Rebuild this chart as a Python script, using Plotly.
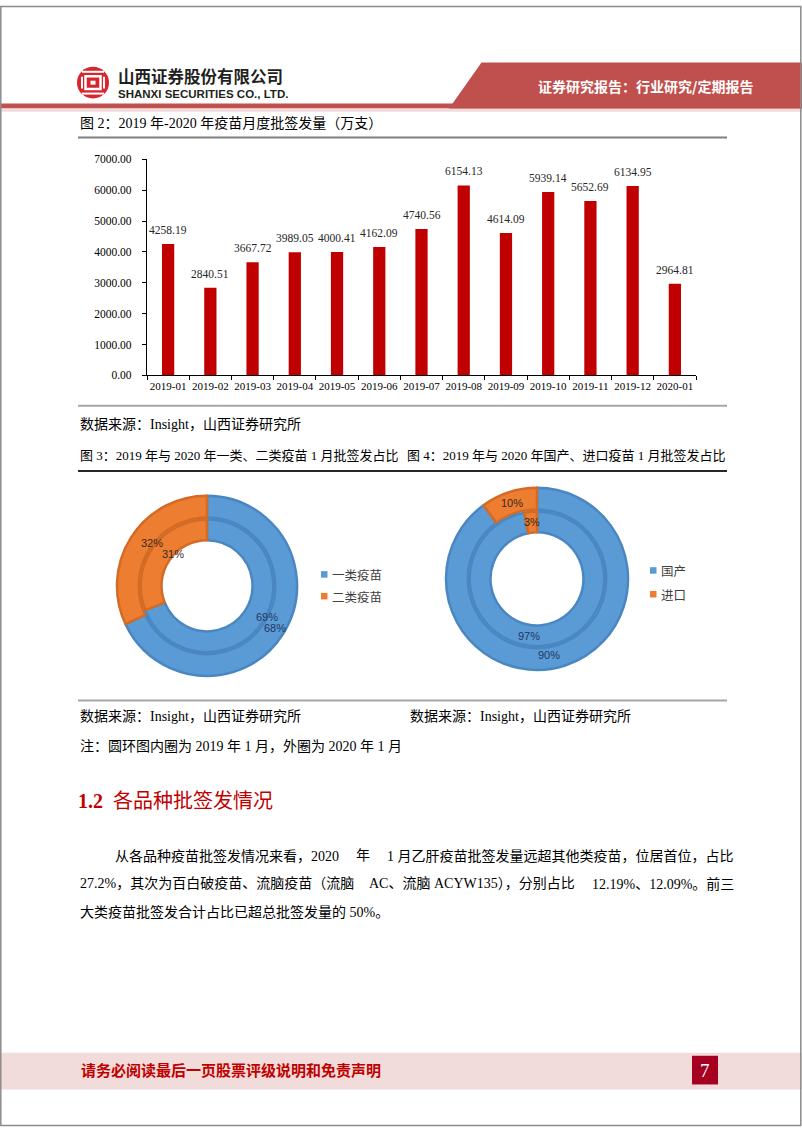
import math
import plotly.graph_objects as go

W, H = 802, 1133

def X(px):
    return px / W

def Y(py):
    return 1 - py / H

# ---------------- data ----------------
months = ['2019-01', '2019-02', '2019-03', '2019-04', '2019-05', '2019-06', '2019-07',
          '2019-08', '2019-09', '2019-10', '2019-11', '2019-12', '2020-01']
volumes = [4258.19, 2840.51, 3667.72, 3989.05, 4000.41, 4162.09, 4740.56,
           6154.13, 4614.09, 5939.14, 5652.69, 6134.95, 2964.81]
y_ticks = [0, 1000, 2000, 3000, 4000, 5000, 6000, 7000]

class_labels = ['一类疫苗', '二类疫苗']
class_2019 = [69, 31]   # inner ring
class_2020 = [68, 32]   # outer ring

origin_labels = ['国产', '进口']
origin_2019 = [97, 3]   # inner ring
origin_2020 = [90, 10]  # outer ring

BLUE, ORANGE = '#5B9BD5', '#ED7D31'
BLUE_EDGE, ORANGE_EDGE = '#4A87C2', '#D36B25'
RED = '#C00000'
SERIF = 'Liberation Serif, Noto Sans CJK SC'
SANS = 'Noto Sans CJK SC, Liberation Sans'

fig = go.Figure()

# ---------------- bar chart ----------------
fig.add_trace(go.Bar(
    x=months, y=volumes, marker=dict(color=RED, line=dict(width=0)),
    width=0.29, showlegend=False, hoverinfo='x+y'))

for m, v in zip(months, volumes):
    fig.add_annotation(x=m, y=v, xref='x', yref='y', text=f'{v:.2f}', showarrow=False,
                       yanchor='bottom', yshift=6,
                       font=dict(family=SERIF, size=11.5, color='#262626'))

fig.update_xaxes(domain=[X(147), X(696)], type='category', showline=True, linecolor='black',
                 linewidth=1.2, ticks='outside', ticklen=4, tickcolor='black', tickson='boundaries',
                 showgrid=False, tickangle=0,
                 tickfont=dict(family=SERIF, size=11, color='black'),
                 anchor='y', fixedrange=True)
fig.update_yaxes(domain=[Y(373.3), Y(155)], range=[0, 7000], tickvals=y_ticks,
                 ticktext=[f'{t:.2f}' for t in y_ticks], showline=True, linecolor='black',
                 linewidth=1.2, ticks='outside', ticklen=4, tickcolor='black', showgrid=False,
                 zeroline=False, tickfont=dict(family=SERIF, size=11.5, color='black'),
                 ticklabelstandoff=8, anchor='x', fixedrange=True)

# ---------------- donuts ----------------
def add_donut(cx, cy, r_out, r_mid_out, r_mid_in, r_in, labels, inner_vals, outer_vals):
    for vals, ro, ri in ((outer_vals, r_out, r_mid_out), (inner_vals, r_mid_in, r_in)):
        fig.add_trace(go.Pie(
            labels=labels, values=vals, sort=False, direction='clockwise', rotation=0,
            hole=ri / ro, textinfo='none', showlegend=False,
            marker=dict(colors=[BLUE, ORANGE], line=dict(color=[BLUE_EDGE, ORANGE_EDGE], width=2.5)),
            domain=dict(x=[X(cx - ro), X(cx + ro)], y=[Y(cy + ro), Y(cy - ro)])))
        # percentage labels at mid angle / mid radius of each slice
        total = sum(vals)
        cum = 0
        rm = (ro + ri) / 2
        for i, v in enumerate(vals):
            th = 2 * math.pi * (cum + v / 2) / total
            cum += v
            px = cx + rm * math.sin(th)
            py = cy - rm * math.cos(th)
            fig.add_annotation(x=X(px), y=Y(py), xref='paper', yref='paper',
                               text=f'{round(100 * v / total)}%', showarrow=False,
                               font=dict(family='Liberation Sans Narrow, Liberation Sans', size=11,
                                         color='#1F3864' if i == 0 else '#3A2A1E'))

add_donut(207, 586, 91, 69, 67, 46, class_labels, class_2019, class_2020)
add_donut(537, 579, 92, 70, 68, 47, origin_labels, origin_2019, origin_2020)

# manual legends
def add_legend(x0, ys, labels):
    for lab, yy, col in zip(labels, ys, [BLUE, ORANGE]):
        fig.add_shape(type='rect', xref='paper', yref='paper', x0=X(x0), x1=X(x0 + 6.5),
                      y0=Y(yy + 3.3), y1=Y(yy - 3.3), fillcolor=col, line=dict(width=0))
        fig.add_annotation(x=X(x0 + 9), y=Y(yy), xref='paper', yref='paper', text=lab,
                           showarrow=False, xanchor='left',
                           font=dict(family=SANS, size=12.5, color='#404040'))

add_legend(321, [574.5, 596.5], class_labels)
add_legend(650, [570.5, 594.5], origin_labels)

# ---------------- page decoration ----------------
shapes = []
def rect(x0, y0, x1, y1, color, line=None):
    shapes.append(dict(type='rect', xref='paper', yref='paper', x0=X(x0), x1=X(x1),
                       y0=Y(y1), y1=Y(y0), fillcolor=color,
                       line=line if line else dict(width=0), layer='below'))

def hline(x0, x1, y, color, width):
    shapes.append(dict(type='line', xref='paper', yref='paper', x0=X(x0), x1=X(x1),
                       y0=Y(y), y1=Y(y), line=dict(color=color, width=width)))

# header band
rect(0, 98.5, 802, 103.5, '#C0504D')
rect(0, 103.5, 802, 107, '#F2DCDB')
shapes.append(dict(type='path', xref='paper', yref='paper',
                   path=f'M {X(481.5)} {Y(57)} L {X(802)} {Y(57)} L {X(802)} {Y(103.5)} L {X(449)} {Y(103.5)} Z',
                   fillcolor='#C0504D', line=dict(width=0), layer='below'))

# logo
cx, cy, r = 93, 77.5, 16
shapes.append(dict(type='circle', xref='paper', yref='paper', x0=X(cx - r), x1=X(cx + r),
                   y0=Y(cy + r), y1=Y(cy - r), fillcolor='#D7262D', line=dict(width=0)))
shapes.append(dict(type='rect', xref='paper', yref='paper', x0=X(cx - 7.5), x1=X(cx + 7.5),
                   y0=Y(cy + 6.5), y1=Y(cy - 6.5), fillcolor='rgba(0,0,0,0)',
                   line=dict(color='white', width=2.5)))
shapes.append(dict(type='rect', xref='paper', yref='paper', x0=X(cx - 2.5), x1=X(cx + 2.5),
                   y0=Y(cy + 2), y1=Y(cy - 2), fillcolor='white', line=dict(width=0)))
for dy in (-11, 11):
    shapes.append(dict(type='line', xref='paper', yref='paper', x0=X(cx - 11), x1=X(cx + 11),
                       y0=Y(cy + dy), y1=Y(cy + dy), line=dict(color='white', width=2)))
for dx in (-11, 11):
    shapes.append(dict(type='line', xref='paper', yref='paper', x0=X(cx + dx), x1=X(cx + dx),
                       y0=Y(cy - 6), y1=Y(cy + 6), line=dict(color='white', width=2)))

# rules
hline(78, 727, 133, '#7F7F7F', 2)
hline(78, 727, 404, '#A6A6A6', 2)
hline(78, 727, 470, '#262626', 2)
hline(78, 727, 702, '#A6A6A6', 2)

# footer
rect(0, 1058, 802, 1095, '#F2DCDB')
rect(692, 1061, 718, 1090, '#A50021')

# page frame
shapes.append(dict(type='rect', xref='paper', yref='paper', x0=X(0.8), x1=X(800.8),
                   y0=Y(1131.5), y1=Y(0.5), fillcolor='rgba(0,0,0,0)',
                   line=dict(color='#8C8C8C', width=1.5)))

fig.update_layout(shapes=list(fig.layout.shapes) + shapes)

# ---------------- texts ----------------
def text(x, y, s, size=14, color='black', family=SERIF, anchor='left', bold=False):
    if bold:
        s = f'<b>{s}</b>'
    fig.add_annotation(x=X(x), y=Y(y), xref='paper', yref='paper', text=s, showarrow=False,
                       xanchor=anchor, yanchor='middle', borderpad=0,
                       font=dict(family=family, size=size, color=color))

text(117, 70.5, '山西证券股份有限公司', size=16.5, color='#231F20', family=SANS, bold=True)
text(117, 89, 'SHANXI SECURITIES CO., LTD.', size=11.5, color='#231F20',
     family='Liberation Sans', bold=True)
text(645, 81, '证券研究报告：行业研究/定期报告', size=14, color='white', family=SANS,
     anchor='center', bold=True)

text(79, 118, '图 2：2019 年-2020 年疫苗月度批签发量（万支）')
text(79, 423, '数据来源：Insight，山西证券研究所')
text(79, 454, '图 3：2019 年与 2020 年一类、二类疫苗 1 月批签发占比', size=13)
text(727, 454, '图 4：2019 年与 2020 年国产、进口疫苗 1 月批签发占比', size=13, anchor='right')
text(79, 718, '数据来源：Insight，山西证券研究所')
text(409, 718, '数据来源：Insight，山西证券研究所')
text(79, 748, '注：圆环图内圈为 2019 年 1 月，外圈为 2020 年 1 月')

text(77, 804, '<b>1.2</b>  各品种批签发情况', size=20, color=RED)

# paragraph (justified by spreading each full line over a few pieces)
text(114, 859, '从各品种疫苗批签发情况来看，2020')
text(363, 859, '年', anchor='center')
text(735, 859, '1 月乙肝疫苗批签发量远超其他类疫苗，位居首位，占比', anchor='right')
text(79, 887, '27.2%，其次为百白破疫苗、流脑疫苗（流脑')
text(368, 887, 'AC、流脑 ACYW135），分别占比')
text(735, 887, '12.19%、12.09%。前三', anchor='right')
text(79, 916, '大类疫苗批签发合计占比已超总批签发量的 50%。')

text(80, 1075, '请务必阅读最后一页股票评级说明和免责声明', size=15, color='#C00000',
     family=SANS, bold=True)
text(705, 1075.5, '7', size=19, color='white', family=SERIF, anchor='center')

fig.update_layout(width=W, height=H, margin=dict(l=0, r=0, t=0, b=0),
                  paper_bgcolor='white', plot_bgcolor='white', showlegend=False)

fig.write_html('out.html')
